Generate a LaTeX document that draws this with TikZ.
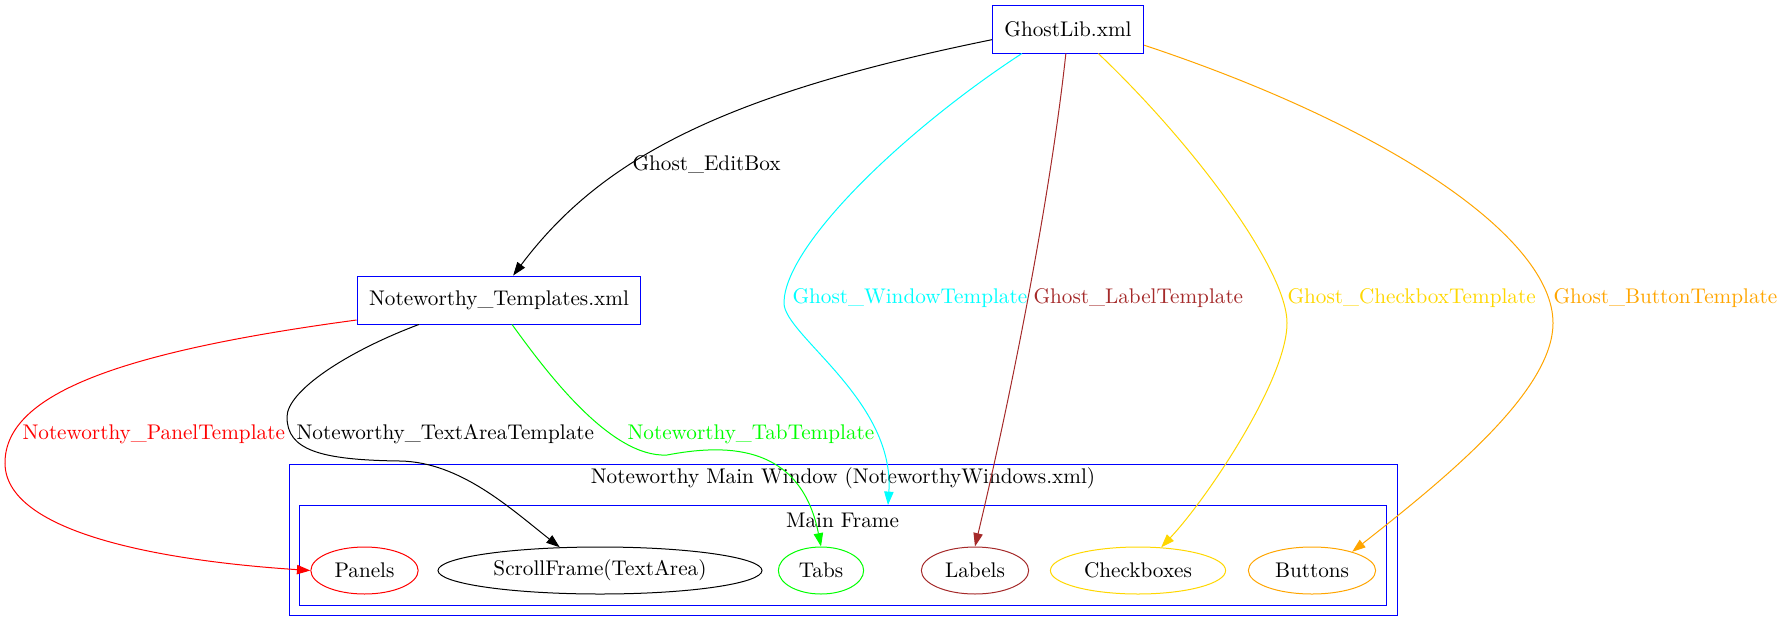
\documentclass[tikz,border=0pt]{standalone}
\usepackage{fontspec}
\usetikzlibrary{arrows.meta,shapes.geometric}

\definecolor{gvcyan}{RGB}{0,255,255}
\definecolor{gvbrown}{RGB}{165,42,42}
\definecolor{gvgold}{RGB}{255,215,0}
\definecolor{gvorange}{RGB}{255,165,0}
\definecolor{gvgreen}{RGB}{0,255,0}

\begin{document}
\begin{tikzpicture}[x=0.5pt,y=-0.5pt,line width=0.5pt,
    font=\fontsize{10.6pt}{12pt}\selectfont,
    >={Triangle[length=6.7pt,width=4.7pt]},
    file/.style={draw=blue,rectangle,inner xsep=6pt,minimum height=24pt},
    part/.style={draw,ellipse,inner xsep=4pt,inner ysep=1pt,minimum height=23.5pt},
    cluster/.style={draw=blue,rectangle},
    lbl/.style={inner sep=0pt,anchor=west}]
      \useasboundingbox (0,0) rectangle (1777,632);
      \node[file] (ghost) at (1068,29) {GhostLib.xml};
      \node[file] (tmpl) at (499,300) {Noteworthy\_Templates.xml};
      \node[cluster,minimum width=554pt,minimum height=75.5pt] (mainwin) at (843,539.5) {};
      \node (mainwinlabel) at (843,478) {Noteworthy Main Window (NoteworthyWindows.xml)};
      \node[cluster,minimum width=543.5pt,minimum height=50pt] (mainframe) at (842.5,555) {};
      \node (mainframelabel) at (842.5,520) {Main Frame};
      \coordinate (framehit) at (888,505);
      \node[part,draw=red] (panels) at (364.5,570.5) {Panels};
      \node[part] (scroll) at (600,570.5) {ScrollFrame(TextArea)};
      \node[part,draw=gvgreen] (tabs) at (821,570.5) {Tabs};
      \node[part,draw=gvbrown] (labels) at (975,570.5) {Labels};
      \node[part,draw=gvgold] (checks) at (1138,570.5) {Checkboxes};
      \node[part,draw=gvorange] (buttons) at (1312,570.5) {Buttons};
        % edges out of GhostLib.xml
        \draw[->] (ghost.188) .. controls (720,95) and (600,160) .. (tmpl.60);
        \draw[->,gvcyan] (ghost.208) .. controls (903.5,130.75) and (784,246) .. (784,303)
              .. controls (784,335) and (895,400) .. (framehit);
        \draw[->,gvbrown] (ghost.265) .. controls (1050,200) and (1010,400) .. (labels.north);
        \draw[->,gvgold] (ghost.321) .. controls (1192.5,143) and (1287,269) .. (1287,323)
              .. controls (1287,380) and (1206,500) .. (checks.45);
        \draw[->,gvorange] (ghost.348) .. controls (1389,126.6) and (1553,237.8) .. (1553,323)
              .. controls (1553,390) and (1450,475) .. (buttons.25);
        % edges out of Noteworthy_Templates.xml
        \draw[->,red] (tmpl.188) .. controls (110.6,353) and (5,396.5) .. (5,463)
              .. controls (5,530) and (150,560) .. (panels.west);
        \draw[->] (tmpl.197) .. controls (346.8,351.5) and (287,391) .. (287,417)
              .. controls (287,450) and (320,460) .. (400,461)
              .. controls (460,462) and (510,508) .. (scroll.150);
        \draw[->,gvgreen] (tmpl.298) .. controls (545,370) and (610,458) .. (667,455)
              .. controls (720,445) and (800,440) .. (tabs.north);
      \node[lbl] (editlbl) at (632,164) {Ghost\_EditBox};
      \node[lbl,text=gvcyan] (winlbl) at (792,298) {Ghost\_WindowTemplate};
      \node[lbl,text=gvbrown] (labellbl) at (1033,298) {Ghost\_LabelTemplate};
      \node[lbl,text=gvgold] (checklbl) at (1287,298) {Ghost\_CheckboxTemplate};
      \node[lbl,text=gvorange] (buttonlbl) at (1553,298) {Ghost\_ButtonTemplate};
      \node[lbl,text=red] (panellbl) at (22,434) {Noteworthy\_PanelTemplate};
      \node[lbl] (textarealbl) at (296,434) {Noteworthy\_TextAreaTemplate};
      \node[lbl,text=gvgreen] (tablbl) at (627,434) {Noteworthy\_TabTemplate};
    \end{tikzpicture}
\end{document}
